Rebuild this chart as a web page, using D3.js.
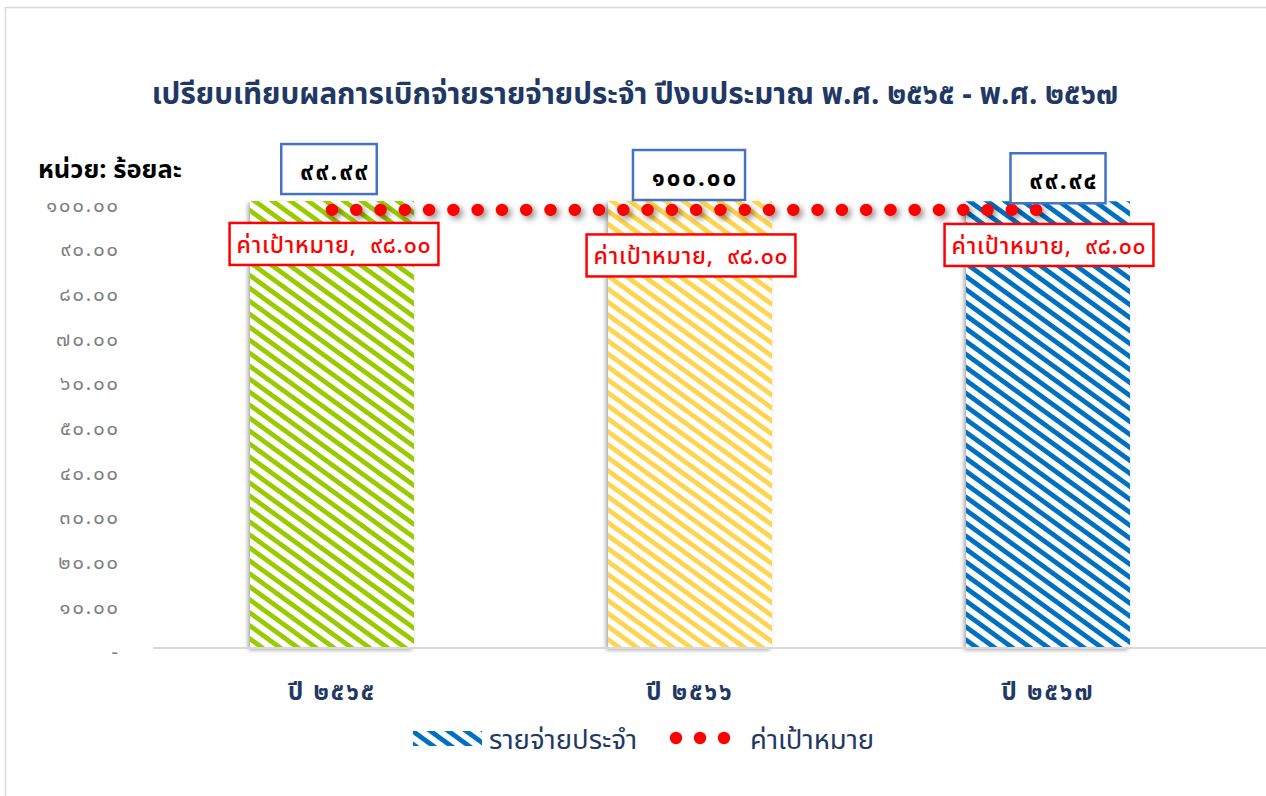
<!DOCTYPE html>
<html><head><meta charset="utf-8">
<script src="https://cdn.jsdelivr.net/npm/d3@7/dist/d3.min.js"></script>
<style>
html,body{margin:0;padding:0;background:#fff;overflow:hidden;}
text{font-family:"Noto Sans Thai","Noto Sans","Tahoma",sans-serif;}
</style></head>
<body><svg id="c" width="1266" height="796"></svg>
<script>
const categories = ["ปี ๒๕๖๕", "ปี ๒๕๖๖", "ปี ๒๕๖๗"];
const values = [99.99, 100.00, 99.94];
const valueLabels = ["๙๙.๙๙", "๑๐๐.๐๐", "๙๙.๙๔"];
const targets = [98, 98, 98];
const targetLabels = ["ค่าเป้าหมาย,  ๙๘.๐๐", "ค่าเป้าหมาย,  ๙๘.๐๐", "ค่าเป้าหมาย,  ๙๘.๐๐"];
const yTicks = [0, 10, 20, 30, 40, 50, 60, 70, 80, 90, 100];
const yTickLabels = ["-", "๑๐.๐๐", "๒๐.๐๐", "๓๐.๐๐", "๔๐.๐๐", "๕๐.๐๐", "๖๐.๐๐", "๗๐.๐๐", "๘๐.๐๐", "๙๐.๐๐", "๑๐๐.๐๐"];
const barColors = ["#99CC00", "#FFD54F", "#0070C0"];
const title = "เปรียบเทียบผลการเบิกจ่ายรายจ่ายประจำ ปีงบประมาณ พ.ศ. ๒๕๖๕ - พ.ศ. ๒๕๖๗";
const unitLabel = "หน่วย: ร้อยละ";
const legendNames = ["รายจ่ายประจำ", "ค่าเป้าหมาย"];
// manual label offsets (layout only)
const valueLabelOffsets = [[-3, -32], [-1, -26], [10, -23]];
const targetLabelOffsets = [[2, 34], [1, 45.5], [1, 35]];

const svg = d3.select("#c");
const navy = "#1F3864";
const defs = svg.append("defs");

barColors.forEach((c, i) => {
  const p = defs.append("pattern").attr("id", "pat" + i)
    .attr("patternUnits", "userSpaceOnUse").attr("width", 20).attr("height", 10.5)
    .attr("patternTransform", "rotate(36)");
  p.append("rect").attr("width", 20).attr("height", 10.5).attr("fill", "#fff");
  p.append("rect").attr("y", 0).attr("width", 20).attr("height", 4.8).attr("fill", c);
});
const fBar = defs.append("filter").attr("id", "shBar").attr("x", "-10%").attr("y", "-10%").attr("width", "120%").attr("height", "120%");
fBar.append("feDropShadow").attr("dx", -2).attr("dy", 2).attr("stdDeviation", 2).attr("flood-color", "#000").attr("flood-opacity", 0.35);
const fDot = defs.append("filter").attr("id", "shDot").attr("filterUnits", "userSpaceOnUse")
  .attr("x", 0).attr("y", 150).attr("width", 1266).attr("height", 120);
fDot.append("feDropShadow").attr("dx", 3).attr("dy", 3).attr("stdDeviation", 3).attr("flood-color", "#000").attr("flood-opacity", 0.45);

// outer border
svg.append("rect").attr("x", 5.5).attr("y", 7.5).attr("width", 1300).attr("height", 900)
  .attr("fill", "none").attr("stroke", "#D9D9D9").attr("stroke-width", 1.5);

const x = d3.scaleBand().domain(categories).range([153, 1227]).paddingInner(0.542).paddingOuter(0.271);
const y = d3.scaleLinear().domain([0, 100]).range([648, 201]);

// title
svg.append("text").attr("x", 635).attr("y", 104).attr("text-anchor", "middle")
  .attr("font-size", 29.6).attr("font-weight", "bold").attr("fill", navy).text(title);
svg.append("text").attr("x", 38).attr("y", 178).attr("font-size", 25.5).attr("font-weight", "bold")
  .attr("fill", "#000").text(unitLabel);

// y axis labels
const yAxis = d3.axisLeft(y).tickValues(yTicks).tickSize(0).tickPadding(0)
  .tickFormat((d, i) => yTickLabels[yTicks.indexOf(d)]);
const gy = svg.append("g").attr("transform", "translate(120,0)").call(yAxis);
gy.select(".domain").remove();
gy.selectAll("text").attr("font-size", 20).attr("fill", "#7F7F7F").attr("dy", "0.5em")
  .attr("letter-spacing", 2).style("font-family", '"Noto Sans Thai","Noto Sans",sans-serif');

// bars
svg.append("g").selectAll("rect").data(values).join("rect")
  .attr("x", (d, i) => x(categories[i])).attr("y", d => y(d))
  .attr("width", x.bandwidth()).attr("height", d => y(0) - y(d))
  .attr("fill", (d, i) => `url(#pat${i})`).attr("filter", "url(#shBar)");

// baseline
svg.append("line").attr("x1", 153).attr("x2", 1266).attr("y1", 648).attr("y2", 648)
  .attr("stroke", "#D9D9D9").attr("stroke-width", 2);

// x axis labels
const xAxis = d3.axisBottom(x).tickSize(0).tickPadding(0);
const gx = svg.append("g").attr("transform", "translate(0,678)").call(xAxis);
gx.select(".domain").remove();
gx.selectAll("text").attr("font-size", 24).attr("font-weight", "bold").attr("fill", navy)
  .attr("letter-spacing", 2).attr("dy", "0.9em").style("font-family", '"Noto Sans Thai","Noto Sans",sans-serif');

// target dotted line
const line = d3.line().x((d, i) => x(categories[i]) + x.bandwidth() / 2).y(d => y(d));
svg.append("path").datum(targets).attr("d", line).attr("fill", "none")
  .attr("stroke", "#FF0000").attr("stroke-width", 12.5).attr("stroke-linecap", "round")
  .attr("stroke-dasharray", "0 24.28").attr("filter", "url(#shDot)");

// value labels
const vl = svg.append("g").selectAll("g").data(values).join("g")
  .attr("transform", (d, i) => `translate(${x(categories[i]) + x.bandwidth() / 2 + valueLabelOffsets[i][0]},${y(d) + valueLabelOffsets[i][1]})`);
vl.each(function (d, i) {
  const g = d3.select(this);
  const t = g.append("text").attr("text-anchor", "middle").attr("x", 6).attr("dy", "0.45em")
    .attr("font-size", 24).attr("font-weight", "bold").attr("letter-spacing", 2)
    .attr("fill", "#000").text(valueLabels[i]);
  const w = t.node().getComputedTextLength() + 26;
  g.insert("rect", "text").attr("x", -w / 2).attr("y", -25).attr("width", w).attr("height", 50)
    .attr("fill", "#fff").attr("stroke", "#4472C4").attr("stroke-width", 2.5);
});

// target labels
const tl = svg.append("g").selectAll("g").data(targets).join("g")
  .attr("transform", (d, i) => `translate(${x(categories[i]) + x.bandwidth() / 2 + targetLabelOffsets[i][0]},${y(d) + targetLabelOffsets[i][1]})`);
tl.each(function (d, i) {
  const g = d3.select(this);
  const t = g.append("text").attr("text-anchor", "middle").attr("dy", "0.38em")
    .attr("font-size", 23).attr("fill", "#FF0000").attr("font-weight", 500).attr("letter-spacing", 0.8)
    .style("white-space", "pre").text(targetLabels[i]);
  const w = t.node().getComputedTextLength() + 14;
  g.insert("rect", "text").attr("x", -w / 2).attr("y", -21).attr("width", w).attr("height", 42)
    .attr("fill", "#fff").attr("stroke", "#FF0000").attr("stroke-width", 2.5);
});

// legend
const lg = svg.append("g");
lg.append("rect").attr("x", 413).attr("y", 731).attr("width", 69).attr("height", 15).attr("fill", "url(#pat2)");
lg.append("text").attr("x", 489).attr("y", 749).attr("font-size", 27.5).attr("fill", navy).text(legendNames[0]);
lg.append("g").selectAll("circle").data([676, 700, 724]).join("circle")
  .attr("cx", d => d).attr("cy", 738).attr("r", 6.2).attr("fill", "#FF0000");
lg.append("text").attr("x", 750).attr("y", 749).attr("font-size", 27.5).attr("fill", navy).text(legendNames[1]);
</script></body></html>
